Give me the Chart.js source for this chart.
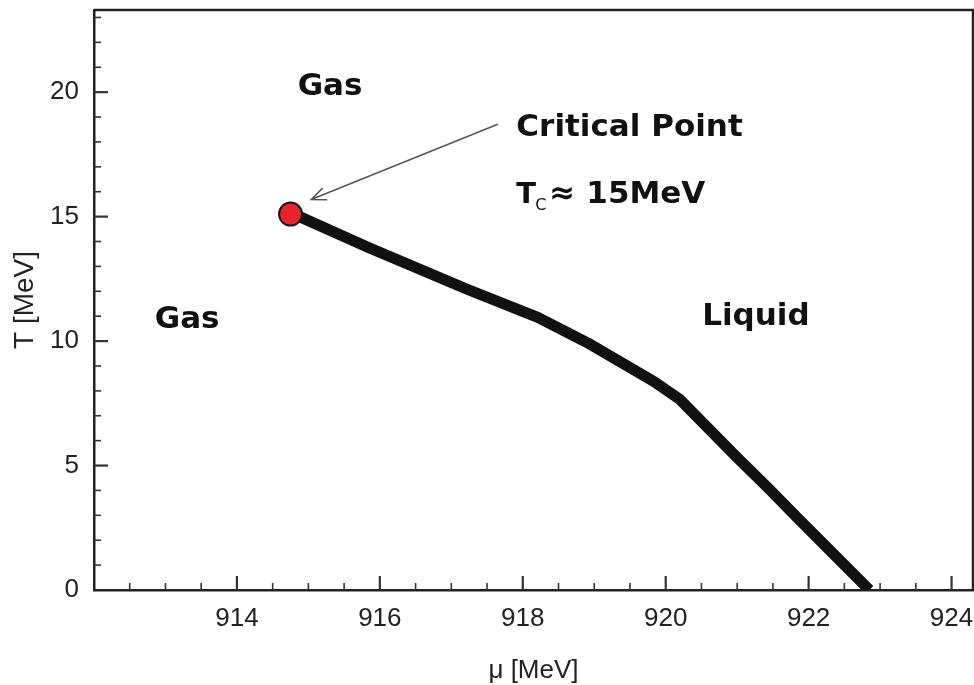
<!DOCTYPE html>
<html>
<head>
<meta charset="utf-8">
<script src="https://cdn.jsdelivr.net/npm/chart.js@4.4.1/dist/chart.umd.min.js"></script>
<style>
  html, body { margin: 0; padding: 0; background: #fff; }
  #wrap { width: 974px; height: 685px; }
</style>
</head>
<body>
<div id="wrap"><canvas id="phase"></canvas></div>
<script>
// Liquid-gas boundary
const muValues = [914.75, 915.84, 917.23, 918.21, 918.90, 919.84, 920.20, 920.99, 921.46, 921.83, 922.85];
const tValues  = [15.16, 13.76, 12.07, 10.95, 9.94, 8.37, 7.65, 5.35, 4.02, 2.94, 0];

// critical point
const critMu = [914.75];
const critT  = [15.1];

// tick labels
const xTicks = [914, 916, 918, 920, 922, 924];
const yTicks = [0, 5, 10, 15, 20];

const tickFont = { family: '"Liberation Sans", Arial, sans-serif', size: 26 };
const labelFont = 'bold 31px "DejaVu Sans", sans-serif';

// frame on top/right + inward ticks (major and minor)
const frameTicks = {
  id: 'frameTicks',
  afterDatasetsDraw(chart) {
    const { ctx, chartArea: a, scales: { x, y } } = chart;
    ctx.save();
    ctx.strokeStyle = '#222';
    ctx.lineWidth = 2.5;
    ctx.beginPath();
    ctx.moveTo(a.left, a.top);
    ctx.lineTo(a.right, a.top);
    ctx.lineTo(a.right, a.bottom);
    ctx.stroke();

    ctx.strokeStyle = '#333';
    for (let v = 912.5; v < x.max; v += 0.5) {
      const major = xTicks.includes(v);
      const px = x.getPixelForValue(v);
      ctx.lineWidth = major ? 2.2 : 1.6;
      ctx.beginPath();
      ctx.moveTo(px, a.bottom);
      ctx.lineTo(px, a.bottom - (major ? 14 : 7));
      ctx.stroke();
    }
    for (let v = 1; v < y.max; v += 1) {
      const major = yTicks.includes(v);
      const py = y.getPixelForValue(v);
      ctx.lineWidth = major ? 2.2 : 1.6;
      ctx.beginPath();
      ctx.moveTo(a.left, py);
      ctx.lineTo(a.left + (major ? 14 : 7), py);
      ctx.stroke();
    }
    ctx.restore();
  }
};

// region labels, critical point text and arrow
const annotate = {
  id: 'annotate',
  afterDatasetsDraw(chart) {
    const { ctx, scales: { x, y } } = chart;
    const px = v => x.getPixelForValue(v);
    const py = v => y.getPixelForValue(v);
    ctx.save();
    ctx.fillStyle = '#111';
    ctx.textBaseline = 'alphabetic';
    ctx.textAlign = 'left';
    ctx.font = labelFont;
    ctx.fillText('Gas', px(914.85), py(19.88));
    ctx.fillText('Gas', px(912.85), py(10.54));
    ctx.fillText('Liquid', px(920.51), py(10.66));
    ctx.fillText('Critical Point', px(917.91), py(18.23));

    // T_C ≈ 15MeV
    const tx = px(917.91), ty = py(15.53);
    ctx.font = 'bold 29px "DejaVu Sans", sans-serif';
    ctx.fillText('T', tx, ty);
    ctx.font = '16px "DejaVu Sans", sans-serif';
    ctx.fillText('C', tx + 19, ty + 7);
    ctx.font = labelFont;
    ctx.fillText('\u2248', tx + 33, ty);
    ctx.fillText('15MeV', tx + 70, ty);

    // arrow to the critical point
    const x0 = px(917.65), y0 = py(18.71);
    const x1 = px(915.04), y1 = py(15.69);
    const ang = Math.atan2(y1 - y0, x1 - x0);
    ctx.strokeStyle = '#555';
    ctx.lineWidth = 1.5;
    ctx.beginPath();
    ctx.moveTo(x0, y0);
    ctx.lineTo(x1, y1);
    ctx.moveTo(x1 - 16 * Math.cos(ang - 0.4), y1 - 16 * Math.sin(ang - 0.4));
    ctx.lineTo(x1, y1);
    ctx.lineTo(x1 - 16 * Math.cos(ang + 0.4), y1 - 16 * Math.sin(ang + 0.4));
    ctx.stroke();
    ctx.restore();
  }
};

new Chart(document.getElementById('phase'), {
  type: 'scatter',
  data: {
    datasets: [
      {
        label: 'Critical point',
        data: critMu.map((m, i) => ({ x: m, y: critT[i] })),
        pointRadius: 11.5,
        pointBackgroundColor: '#e8232a',
        pointBorderColor: '#1a1a1a',
        pointBorderWidth: 2,
        order: 0
      },
      {
        label: 'Phase boundary',
        data: muValues.map((m, i) => ({ x: m, y: tValues[i] })),
        showLine: true,
        borderColor: '#111',
        borderWidth: 11,
        borderJoinStyle: 'round',
        pointRadius: 0,
        clip: 0,
        order: 1
      }
    ]
  },
  options: {
    responsive: true,
    maintainAspectRatio: false,
    animation: false,
    layout: { autoPadding: false, padding: { top: 10, right: 1, left: 0, bottom: 0 } },
    plugins: { legend: { display: false }, tooltip: { enabled: false } },
    scales: {
      x: {
        type: 'linear',
        min: 912,
        max: 924.3,
        afterBuildTicks: s => { s.ticks = xTicks.map(v => ({ value: v })); },
        afterFit: s => { s.height = 95; s.paddingLeft = 0; s.paddingRight = 0; },
        grid: { display: false, drawTicks: false },
        border: { color: '#222', width: 2.5 },
        ticks: { color: '#222', font: tickFont, padding: 13, maxRotation: 0 },
        title: {
          display: true, text: 'μ [MeV]', color: '#222',
          font: { family: tickFont.family, size: 26, lineHeight: 1 },
          padding: { top: 0, bottom: 1 }
        }
      },
      y: {
        type: 'linear',
        min: 0,
        max: 23.3,
        afterBuildTicks: s => { s.ticks = yTicks.map(v => ({ value: v })); },
        afterFit: s => { s.width = 94; s.paddingTop = 0; s.paddingBottom = 0; },
        grid: { display: false, drawTicks: false },
        border: { color: '#222', width: 2.5 },
        ticks: { color: '#222', font: tickFont, padding: 15 },
        title: {
          display: true, text: 'T [MeV]', color: '#222',
          font: { family: tickFont.family, size: 28, lineHeight: 1 },
          padding: { top: 11, bottom: 0 }
        }
      }
    }
  },
  plugins: [frameTicks, annotate]
});
</script>
</body>
</html>
